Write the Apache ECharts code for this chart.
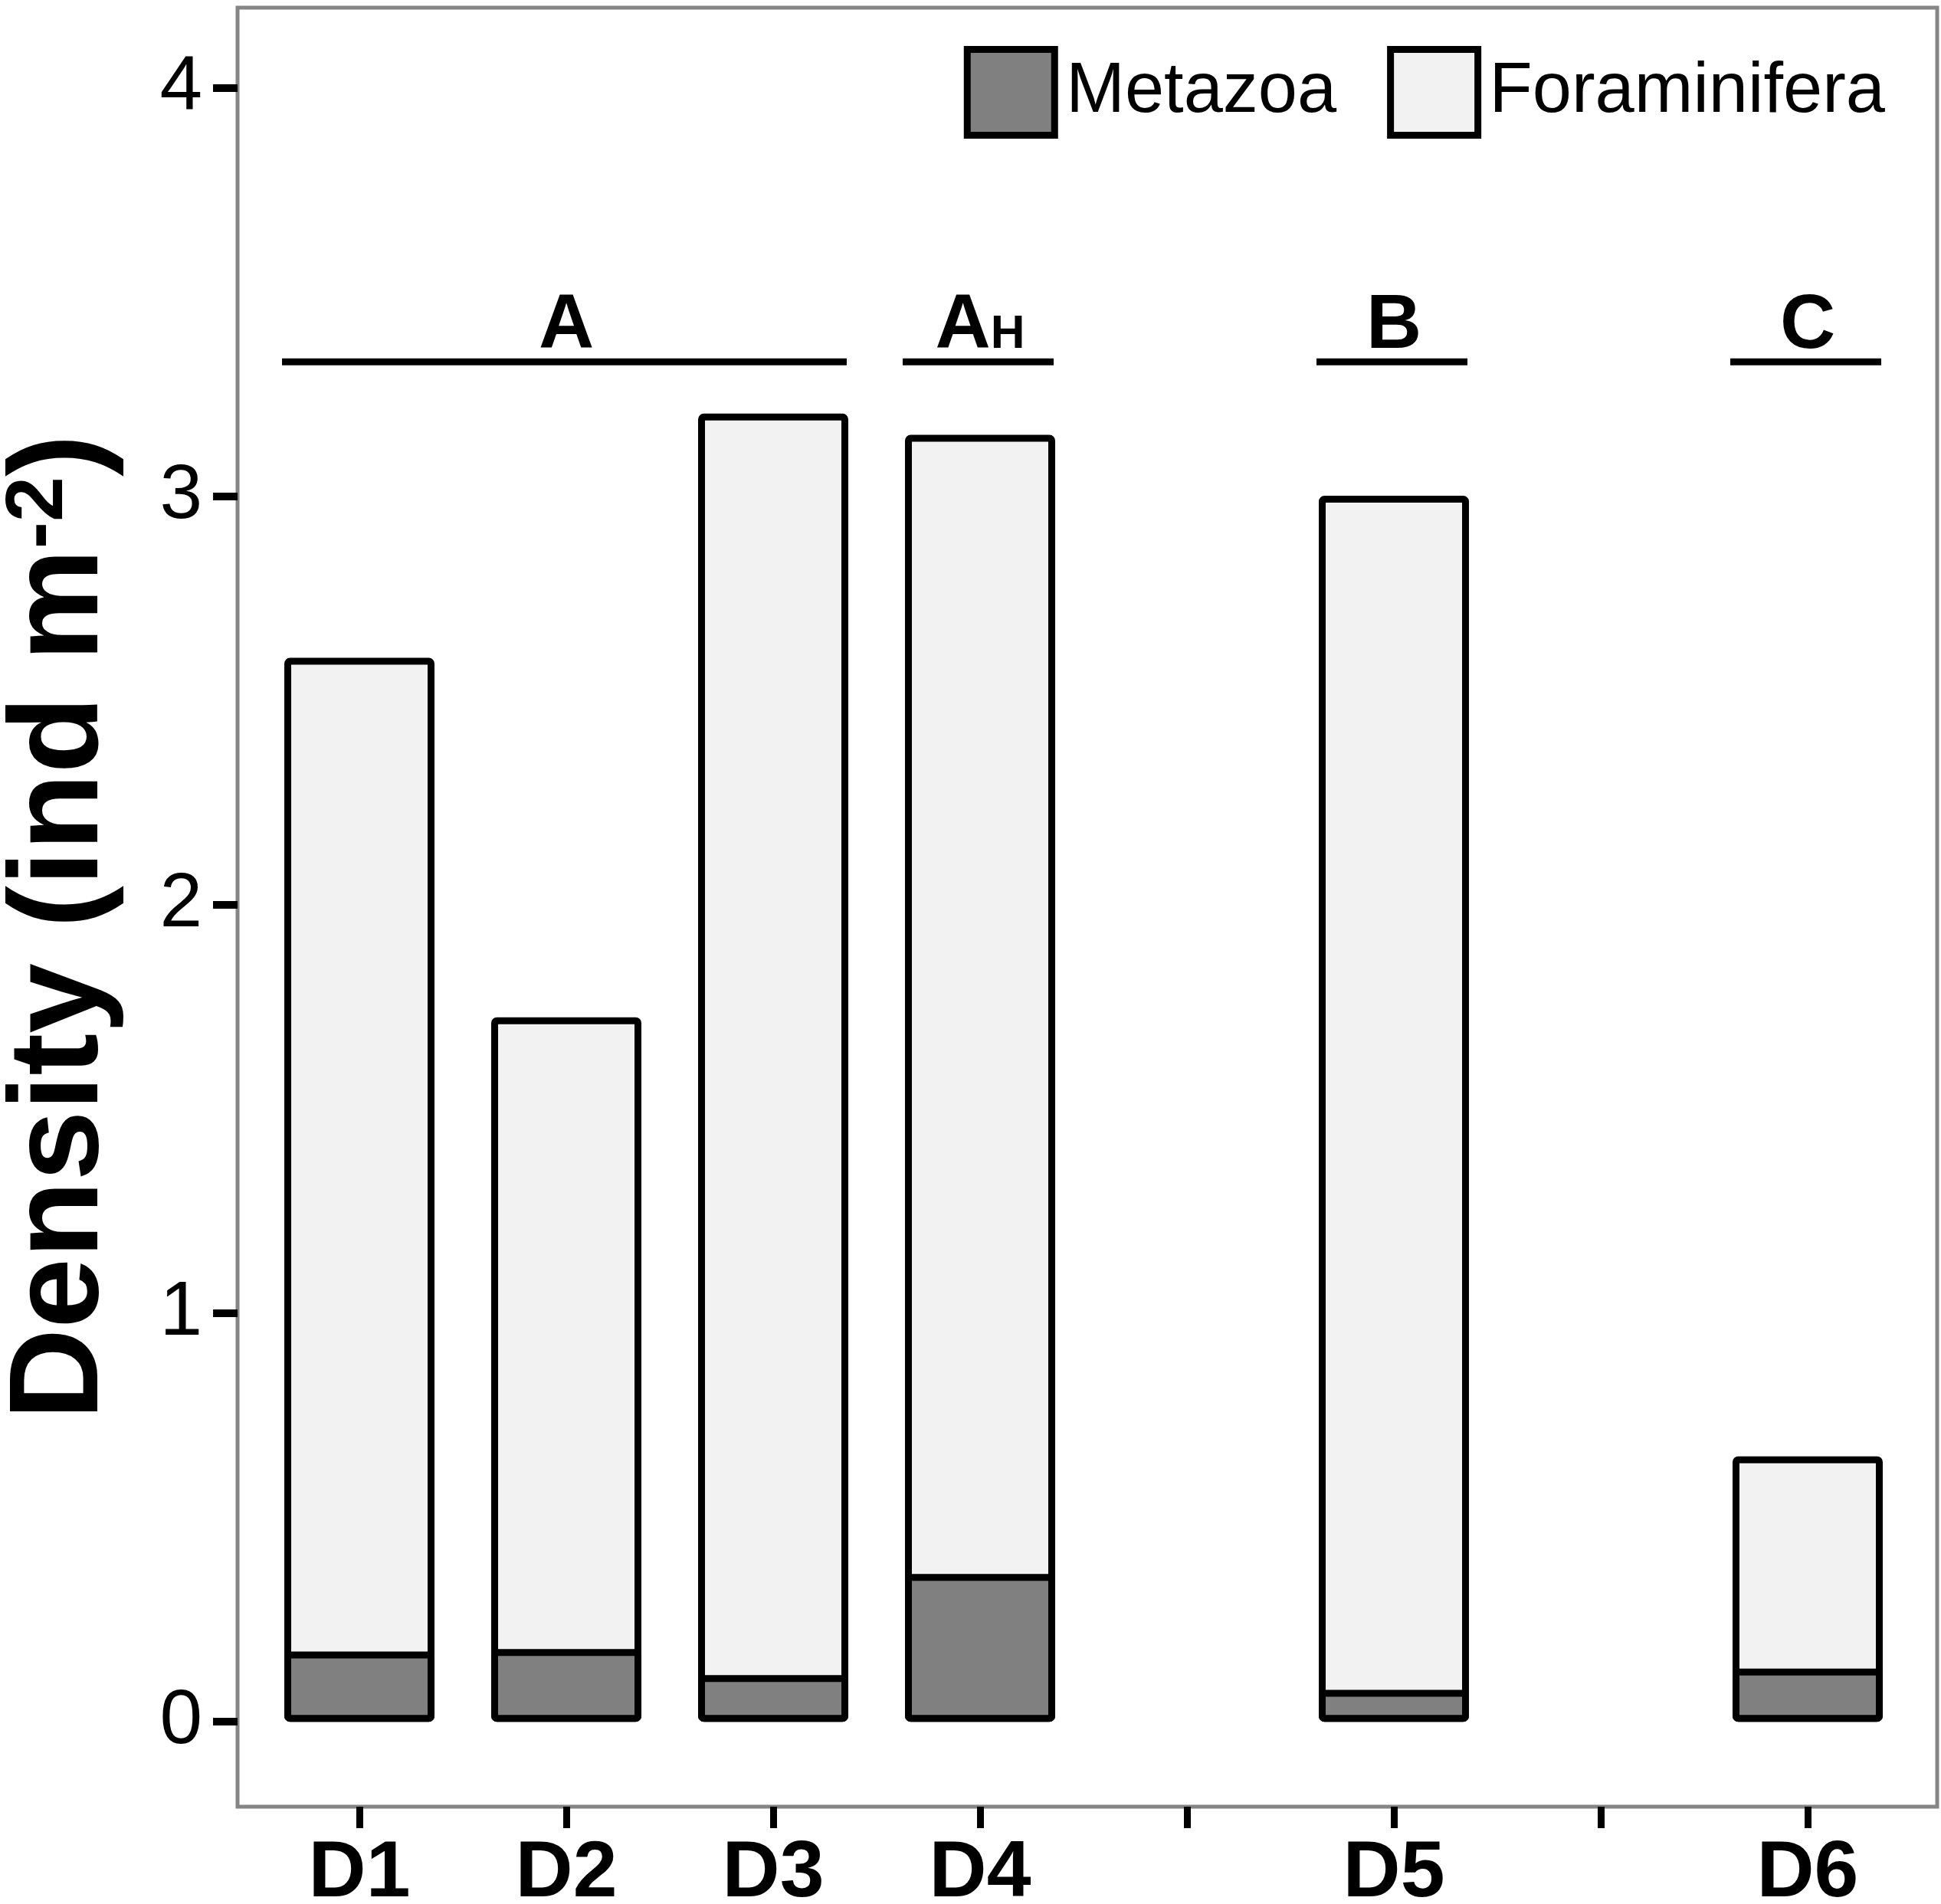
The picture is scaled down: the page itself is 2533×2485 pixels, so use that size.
<!DOCTYPE html>
<html>
<head>
<meta charset="utf-8">
<script src="https://cdn.jsdelivr.net/npm/echarts@6/dist/echarts.min.js"></script>
<style>
  html, body { margin: 0; padding: 0; background: #fff; }
  #chart { width: 2533px; height: 2485px; }
</style>
</head>
<body>
<div id="chart"></div>
<script>
// x slots (two empty slots keep a tick but no bar)
var slotLabels = ['D1', 'D2', 'D3', 'D4', '', 'D5', '', 'D6'];
var slotPos = [1, 2, 3, 4, 5, 6, 7, 8];
var stationPos = [1, 2, 3, 4, 6, 8];

// density, ind m-2
var metazoa = [0.172, 0.178, 0.114, 0.362, 0.078, 0.130];
var foraminifera = [2.433, 1.547, 3.089, 2.789, 2.924, 0.520];

var yTicks = [0, 1, 2, 3, 4];

// station groups drawn above the bars
var groupNames = ['A', 'AH', 'B', 'C'];
var groupFrom = [1, 4, 6, 8];
var groupTo = [3, 4, 6, 8];
var groupLevel = 3.33;

var FONT = "'Liberation Sans', Arial, sans-serif";

// value first, position second
function pairs(xs, ys) {
  return ys.map(function (v, i) { return [v, xs[i]]; });
}

// foraminifera are drawn from 0 up to the full height, metazoa sit on top of them,
// so the join shows one border line instead of two
var totals = metazoa.map(function (m, i) { return m + foraminifera[i]; });

var myChart = echarts.init(document.getElementById('chart'));

var option = {
  animation: false,
  backgroundColor: '#fff',
  grid: {
    left: 310, right: 5, top: 10, bottom: 127,
    show: true, borderColor: '#858585', borderWidth: 5,
    outerBoundsMode: 'none'
  },
  legend: {
    data: ['Metazoa', 'Foraminifera'],
    right: 68, top: 55,
    icon: 'rect',
    itemWidth: 114, itemHeight: 112, itemGap: 66,
    itemStyle: { borderColor: '#000', borderWidth: 9 },
    textStyle: { fontSize: 92, fontFamily: FONT, color: '#000', padding: [0, 0, 0, 10] }
  },
  xAxis: {
    type: 'value',
    min: 0.411, max: 8.626,
    splitLine: { show: false },
    axisLine: { show: false, onZero: false },
    axisTick: { show: true, customValues: slotPos, length: 28, lineStyle: { color: '#000', width: 9 } },
    axisLabel: {
      customValues: slotPos,
      margin: 36,
      fontSize: 104, fontWeight: 'bold', fontFamily: FONT, color: '#000',
      formatter: function (v) { return slotLabels[Math.round(v) - 1] || ''; }
    }
  },
  yAxis: {
    type: 'value',
    min: -0.208, max: 4.197,
    splitLine: { show: false },
    axisLine: { show: false, onZero: false },
    axisTick: { show: true, customValues: yTicks, length: 32, lineStyle: { color: '#000', width: 10 } },
    axisLabel: {
      customValues: yTicks,
      margin: 46,
      fontSize: 100, fontFamily: FONT, color: '#000'
    },
    name: '{t|Density (ind m}{s|-2}{t|)}',
    nameLocation: 'middle',
    nameGap: 146,
    nameTextStyle: {
      padding: [0, 52, 0, 0],
      rich: {
        t: { fontSize: 165, fontWeight: 'bold', fontFamily: FONT, color: '#000' },
        s: { fontSize: 106, fontWeight: 'bold', fontFamily: FONT, color: '#000', verticalAlign: 'top' }
      }
    }
  },
  series: [
    {
      name: 'Foraminifera', type: 'bar', barWidth: 196, barGap: '-100%',
      encode: { x: 1, y: 0 },
      itemStyle: { color: '#f2f2f2', borderColor: '#000', borderWidth: 9, borderRadius: 3 },
      data: pairs(stationPos, totals)
    },
    {
      name: 'Metazoa', type: 'bar', barWidth: 196, barGap: '-100%',
      encode: { x: 1, y: 0 },
      itemStyle: { color: '#808080', borderColor: '#000', borderWidth: 9, borderRadius: 3 },
      data: pairs(stationPos, metazoa)
    },
    {
      name: 'groups', type: 'custom',
      encode: { x: [0, 1], y: 2 },
      data: groupNames.map(function (n, i) { return [groupFrom[i], groupTo[i], groupLevel]; }),
      renderItem: function (params, api) {
        var a = api.coord([api.value(0), api.value(2)]);
        var b = api.coord([api.value(1), api.value(2)]);
        var name = groupNames[params.dataIndex];
        // rule spans the outer edges of the bars it groups
        var txt = name === 'AH' ? '{b|A}{s|H}' : '{b|' + name + '}';
        return {
          type: 'group',
          children: [
            {
              type: 'line',
              shape: { x1: a[0] - 101, y1: a[1], x2: b[0] + 96, y2: b[1] },
              style: { stroke: '#000', lineWidth: 9 }
            },
            {
              type: 'text',
              style: {
                text: txt,
                x: (a[0] + b[0]) / 2, y: a[1] - 46,
                align: 'center', verticalAlign: 'middle',
                rich: {
                  b: { fontSize: 100, fontWeight: 'bold', fontFamily: FONT, fill: '#000' },
                  s: { fontSize: 62, fontWeight: 'bold', fontFamily: FONT, fill: '#000', verticalAlign: 'bottom', padding: [0, 0, 8, 0] }
                }
              }
            }
          ]
        };
      }
    }
  ]
};

myChart.setOption(option);
</script>
</body>
</html>
